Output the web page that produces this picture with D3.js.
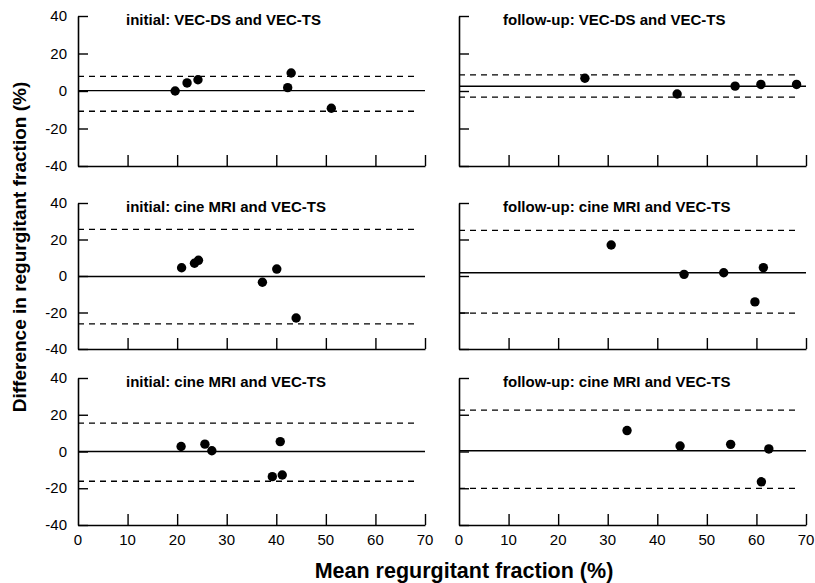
<!DOCTYPE html>
<html>
<head>
<meta charset="utf-8">
<script src="https://cdn.jsdelivr.net/npm/d3@7"></script>
<style>
  body { margin: 0; background: #fff; }
  svg { display: block; font-family: "Liberation Sans", Arial, sans-serif; }
</style>
</head>
<body>
<div id="vis"></div>
<script>
// panel titles, row by row (left, right)
let panelTitles = [
  "initial: VEC-DS and VEC-TS", "follow-up: VEC-DS and VEC-TS",
  "initial: cine MRI and VEC-TS", "follow-up: cine MRI and VEC-TS",
  "initial: cine MRI and VEC-TS", "follow-up: cine MRI and VEC-TS"
];

// mean regurgitant fraction (%) per point
let meanValues = [
  [19.6, 22.0, 24.2, 42.3, 43.0, 51.1],
  [25.4, 44.0, 55.7, 60.9, 68.1],
  [20.9, 23.5, 24.3, 37.2, 40.1, 44.0],
  [30.7, 45.4, 53.4, 61.4, 59.7],
  [20.8, 25.6, 27.0, 40.8, 39.2, 41.2],
  [33.9, 44.6, 54.8, 62.5, 61.0]
];

// difference in regurgitant fraction (%) per point
let diffValues = [
  [0.0, 4.3, 6.0, 1.8, 9.6, -9.2],
  [6.8, -1.6, 2.6, 3.5, 3.5],
  [4.5, 7.0, 8.6, -3.4, 3.8, -23.0],
  [17.0, 0.9, 1.8, 4.6, -14.2],
  [2.7, 4.0, 0.4, 5.4, -13.7, -12.8],
  [11.4, 3.0, 3.9, 1.4, -16.5]
];

// bias (solid) and limits of agreement (dashed)
let biasLines = [0.2, 2.5, -0.3, 1.8, 0, 0.4];
let upperLimits = [7.8, 8.6, 25.5, 25.0, 15.4, 22.5];
let lowerLimits = [-10.8, -3.3, -26.2, -20.3, -16.2, -20.1];

let yTicks = [40, 20, 0, -20, -40];
let xTicks = [0, 10, 20, 30, 40, 50, 60, 70];

let W = 815, H = 583;
let colX = [[78, 425], [459, 806]];
let rowY = [[16, 166], [203, 349], [378, 525]];

let svg = d3.select('#vis')
  .append('svg')
  .attr('width', W)
  .attr('height', H)
  .attr('viewBox', [0, 0, W, H].join(' '));

panelTitles.forEach(function(title, i) {
  let col = i % 2, row = Math.floor(i / 2);
  let xScale = d3.scaleLinear().domain([0, 70]).range(colX[col]);
  let yScale = d3.scaleLinear().domain([-40, 40]).range([rowY[row][1], rowY[row][0]]);
  let g = svg.append('g');

  // y axis, ticks pointing inward
  let yAxis = d3.axisRight(yScale).tickValues(yTicks).tickSize(10).tickFormat('').tickSizeOuter(0);
  let ya = g.append('g')
    .attr('transform', `translate(${colX[col][0]},0)`)
    .call(yAxis);
  ya.select('.domain').attr('stroke-width', 1.6);
  ya.selectAll('.tick line').attr('stroke-width', 1.4);

  // x axis, ticks pointing inward
  let xAxis = d3.axisTop(xScale).tickValues(xTicks.slice(1)).tickSize(11).tickFormat('').tickSizeOuter(0);
  let xa = g.append('g')
    .attr('transform', `translate(0,${rowY[row][1]})`)
    .call(xAxis);
  xa.select('.domain').attr('stroke-width', 1.6);
  xa.selectAll('.tick line').attr('stroke-width', 1.4);

  // tick labels on the left column only
  if (col == 0) {
    g.selectAll('.ylab')
      .data(yTicks)
      .enter().append('text')
      .attr('x', colX[col][0] - 11)
      .attr('y', d => yScale(d) + 5)
      .attr('text-anchor', 'end')
      .style('font-size', '15px')
      .text(d => d);
  }
  if (row == 2) {
    g.selectAll('.xlab')
      .data(xTicks)
      .enter().append('text')
      .attr('x', d => xScale(d))
      .attr('y', rowY[row][1] + 20)
      .attr('text-anchor', 'middle')
      .style('font-size', '15px')
      .text(d => d);
  }

  // limits of agreement
  [upperLimits[i], lowerLimits[i]].forEach(function(v) {
    g.append('line')
      .attr('x1', xScale(0)).attr('x2', xScale(68.5))
      .attr('y1', yScale(v)).attr('y2', yScale(v))
      .attr('stroke', '#000')
      .attr('stroke-width', 1.3)
      .attr('stroke-dasharray', '6,5');
  });

  // bias line
  g.append('line')
    .attr('x1', xScale(0)).attr('x2', xScale(70))
    .attr('y1', yScale(biasLines[i])).attr('y2', yScale(biasLines[i]))
    .attr('stroke', '#000')
    .attr('stroke-width', 1.4);

  // points
  g.selectAll('circle')
    .data(meanValues[i].map((m, k) => ({m: m, d: diffValues[i][k]})))
    .enter().append('circle')
    .attr('cx', d => xScale(d.m))
    .attr('cy', d => yScale(d.d))
    .attr('r', 4.7)
    .attr('fill', '#000');

  // panel title
  g.append('text')
    .attr('x', col == 0 ? colX[col][0] + 48 : colX[col][0] + 44)
    .attr('y', rowY[row][0] + 9)
    .style('font-size', '15px')
    .style('font-weight', 'bold')
    .text(title);
});

// axis titles
svg.append('text')
  .attr('transform', 'translate(26,247) rotate(-90)')
  .attr('text-anchor', 'middle')
  .style('font-size', '19px')
  .style('font-weight', 'bold')
  .text('Difference in regurgitant fraction (%)');

svg.append('text')
  .attr('x', 464)
  .attr('y', 578)
  .attr('text-anchor', 'middle')
  .style('font-size', '21.5px')
  .style('font-weight', 'bold')
  .text('Mean regurgitant fraction (%)');
</script>
</body>
</html>
